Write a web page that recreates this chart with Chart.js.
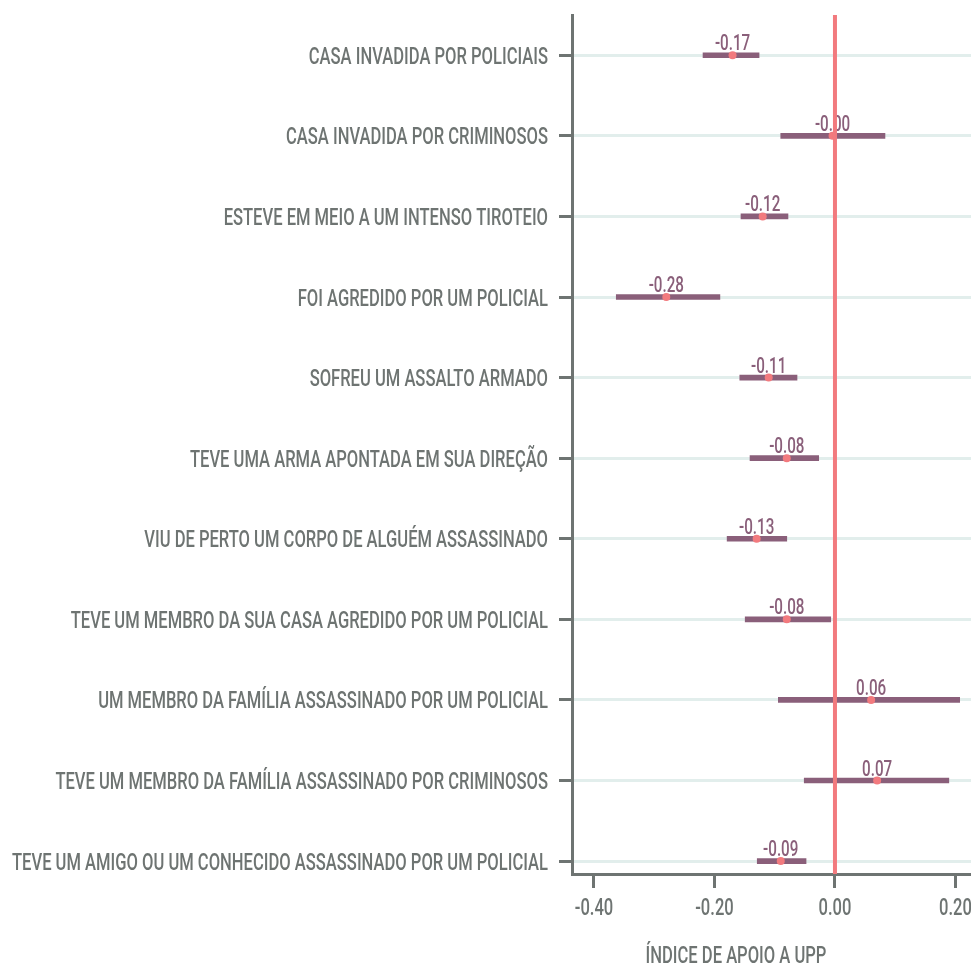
<!DOCTYPE html>
<html>
<head>
<meta charset="utf-8">
<style>
  html, body { margin: 0; padding: 0; background: #ffffff; }
  canvas { display: block; }
</style>
<script src="https://cdn.jsdelivr.net/npm/chart.js@4.4.1/dist/chart.umd.min.js"></script>
</head>
<body>
<canvas id="chart" width="971" height="968"></canvas>
<script>
// Exposure items (top to bottom)
const categories = [
  'CASA INVADIDA POR POLICIAIS',
  'CASA INVADIDA POR CRIMINOSOS',
  'ESTEVE EM MEIO A UM INTENSO TIROTEIO',
  'FOI AGREDIDO POR UM POLICIAL',
  'SOFREU UM ASSALTO ARMADO',
  'TEVE UMA ARMA APONTADA EM SUA DIREÇÃO',
  'VIU DE PERTO UM CORPO DE ALGUÉM ASSASSINADO',
  'TEVE UM MEMBRO DA SUA CASA AGREDIDO POR UM POLICIAL',
  'UM MEMBRO DA FAMÍLIA ASSASSINADO POR UM POLICIAL',
  'TEVE UM MEMBRO DA FAMÍLIA ASSASSINADO POR CRIMINOSOS',
  'TEVE UM AMIGO OU UM CONHECIDO ASSASSINADO POR UM POLICIAL'
];

// Point estimates and confidence interval bounds
const estimates   = [-0.17, -0.004, -0.12, -0.28, -0.11, -0.08, -0.13, -0.08, 0.06, 0.07, -0.09];
const lowerBounds = [-0.219, -0.090, -0.156, -0.363, -0.158, -0.141, -0.179, -0.149, -0.094, -0.051, -0.129];
const upperBounds = [-0.126,  0.083, -0.078, -0.191, -0.063, -0.027, -0.080, -0.007,  0.207,  0.189, -0.048];

const xTicks = [-0.4, -0.2, 0, 0.2];
const xTitle = 'ÍNDICE DE APOIO A UPP';
const referenceValue = 0;

const GRAY = '#6e7472';
const MAUVE = '#8a5f7a';
const SALMON = '#f27a7e';
const FONT = 'Roboto, "Liberation Sans", sans-serif';

const Y_MIN = -0.5, Y_MAX = 10.16;

let condense = 0.55;

function drawCondensed(ctx, text, x, y, size, color, align) {
  ctx.save();
  ctx.font = `500 ${size}px ${FONT}`;
  ctx.fillStyle = color;
  ctx.textBaseline = 'alphabetic';
  ctx.textAlign = align;
  ctx.translate(x, y);
  ctx.scale(condense, 1);
  ctx.fillText(text, 0, 0);
  ctx.restore();
}

const textPlugin = {
  id: 'condensedText',
  beforeDraw(chart) {
    const ctx = chart.ctx;
    ctx.save();
    ctx.font = `500 24px ${FONT}`;
    const longest = categories.reduce((a, b) => ctx.measureText(b).width > ctx.measureText(a).width ? b : a);
    condense = 536 / ctx.measureText(longest).width;
    ctx.restore();
  },
  afterDatasetDraw(chart, args) {
    if (args.index !== 1) return;
    const ctx = chart.ctx;
    const meta = chart.getDatasetMeta(1);
    meta.data.forEach((pt, i) => {
      drawCondensed(ctx, estimates[i].toFixed(2), pt.x, pt.y - 5, 22, MAUVE, 'center');
    });
  },
  afterDraw(chart) {
    const ctx = chart.ctx;
    const xs = chart.scales.x, ys = chart.scales.y;
    const area = chart.chartArea;
    categories.forEach((c, i) => {
      drawCondensed(ctx, c, area.left - 24, ys.getPixelForValue(i) + 8.5, 24, GRAY, 'right');
    });
    xTicks.forEach(v => {
      drawCondensed(ctx, v.toFixed(2), xs.getPixelForValue(v), area.bottom + 41, 24, GRAY, 'center');
    });
    drawCondensed(ctx, xTitle, 736, area.bottom + 89, 24, GRAY, 'center');
  }
};

new Chart(document.getElementById('chart'), {
  type: 'scatter',
  data: {
    datasets: [
      {
        type: 'bar',
        indexAxis: 'y',
        data: categories.map((c, i) => ({ x: [lowerBounds[i], upperBounds[i]], y: i })),
        backgroundColor: MAUVE,
        borderWidth: 0,
        barThickness: 5,
        order: 2,
        xAxisID: 'x',
        yAxisID: 'y'
      },
      {
        type: 'scatter',
        data: categories.map((c, i) => ({ x: estimates[i], y: i })),
        backgroundColor: SALMON,
        borderWidth: 0,
        pointRadius: 4,
        order: 1,
        xAxisID: 'x',
        yAxisID: 'y'
      },
      {
        type: 'line',
        data: [{ x: referenceValue, y: Y_MIN }, { x: referenceValue, y: Y_MAX }],
        borderColor: SALMON,
        borderWidth: 4,
        pointRadius: 0,
        fill: false,
        showLine: true,
        order: 0,
        xAxisID: 'x',
        yAxisID: 'y'
      }
    ]
  },
  options: {
    responsive: false,
    devicePixelRatio: 1,
    animation: false,
    layout: { autoPadding: false, padding: { left: 559, top: 15, right: 0, bottom: 80 } },
    plugins: { legend: { display: false }, tooltip: { enabled: false } },
    scales: {
      x: {
        type: 'linear',
        position: 'bottom',
        offset: false,
        min: -0.4365,
        max: 0.2258,
        afterBuildTicks(scale) { scale.ticks = xTicks.map(v => ({ value: v })); },
        ticks: { display: false },
        grid: { offset: false, drawOnChartArea: false, drawTicks: true, tickLength: 14, tickColor: GRAY, tickWidth: 3 },
        border: { display: true, color: GRAY, width: 3 }
      },
      y: {
        type: 'linear',
        position: 'left',
        offset: false,
        reverse: true,
        min: Y_MIN,
        max: Y_MAX,
        afterBuildTicks(scale) { scale.ticks = categories.map((c, i) => ({ value: i })); },
        ticks: { display: false },
        grid: { offset: false, color: '#e2eeec', lineWidth: 3, drawTicks: true, tickLength: 13, tickColor: GRAY, tickWidth: 3 },
        border: { display: true, color: GRAY, width: 3 }
      }
    }
  },
  plugins: [textPlugin]
});
</script>
</body>
</html>
